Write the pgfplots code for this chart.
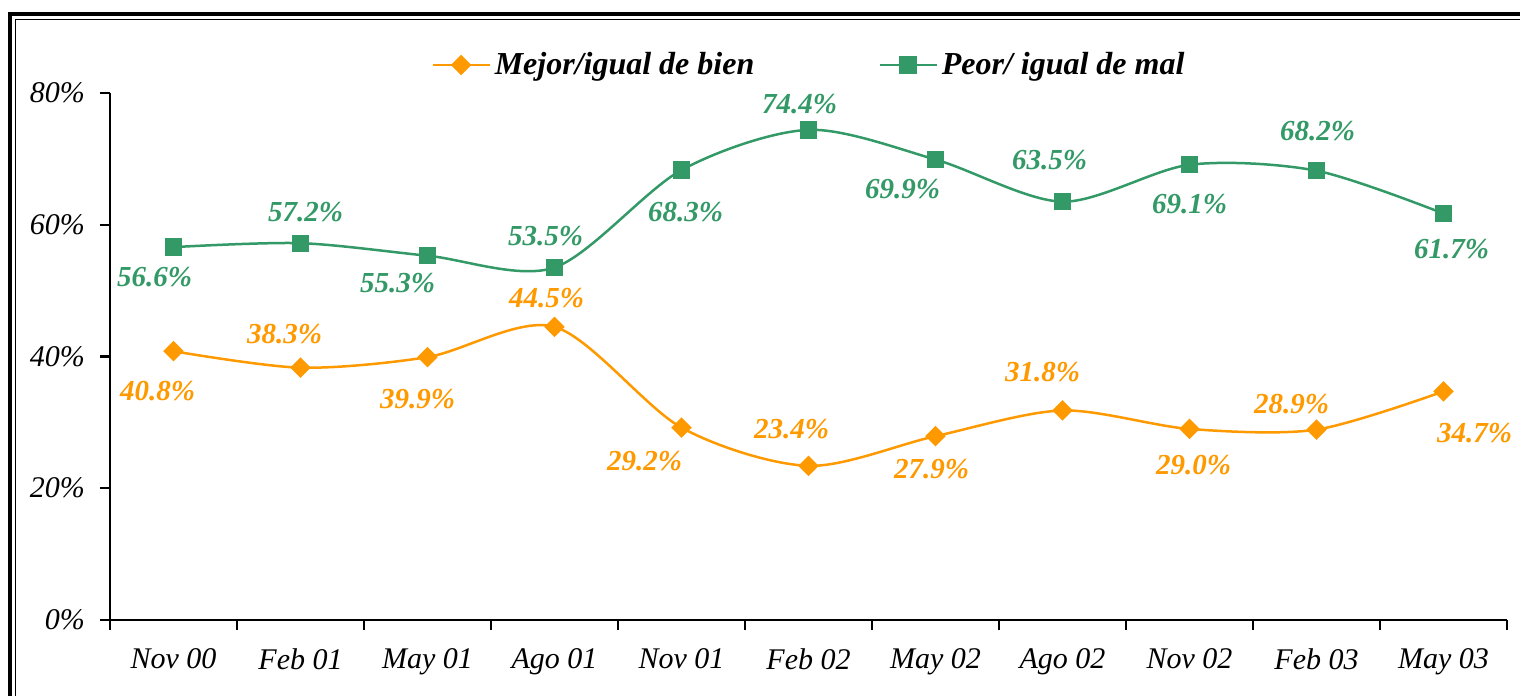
\documentclass[border=0pt]{standalone}
\usepackage{pgfplots}
\usepackage{pgfplotstable}
\pgfplotsset{compat=1.18}
\usepackage{fontspec}
\setmainfont{Liberation Serif}
\definecolor{cor}{HTML}{FF9900}
\definecolor{cgr}{HTML}{339966}

\pgfplotstableread{
x y dx dy
0 40.8 -16 -40
1 38.3 -16 34
2 39.9 -10 -42
3 44.5 -8 29
4 29.2 -37 -33
5 23.4 -17 37
6 27.9 -4 -33
7 31.8 -20 38
8 29.0 4 -36
9 28.9 -25 26
10 34.7 31 -42
}\mejor

\pgfplotstableread{
x y dx dy
0 56.6 -19 -30
1 57.2 5 31
2 55.3 -30 -27
3 53.5 -9 31
4 68.3 4 -42
5 74.4 -9 26
6 69.9 -33 -30
7 63.5 -13 42
8 69.1 0 -39
9 68.2 1 40
10 61.7 8 -36
}\peor

\begin{document}
\begin{tikzpicture}
\begin{axis}[
  scale only axis, width=698.5pt, height=263.5pt,
  xmin=-0.5, xmax=10.5, ymin=0, ymax=80,
  axis x line*=bottom, axis y line*=left,
  axis line style={line width=1.2pt, -},
  xtick={0,...,10},
  xticklabels={Nov 00,Feb 01,May 01,Ago 01,Nov 01,Feb 02,May 02,Ago 02,Nov 02,Feb 03,May 03},
  major x tick style={draw=none},
  minor xtick={-0.5,0.5,1.5,2.5,3.5,4.5,5.5,6.5,7.5,8.5,9.5,10.5},
  minor tick length=5pt, major tick length=5pt,
  ytick={0,20,40,60,80},
  tick align=outside,
  tick style={line width=1.2pt, black},
  /pgf/number format/assume math mode=true,
  yticklabel={\pgfmathprintnumber{\tick}\%},
  ticklabel style={font=\itshape\fontsize{15}{18}\selectfont},
  xticklabel style={yshift=-6pt},
  yticklabel style={xshift=-4pt},
  legend style={at={(0.501,1.053)}, anchor=center, draw=none, fill=none,
    font=\bfseries\itshape\fontsize{16}{19}\selectfont,
    legend columns=2,
    /tikz/every even column/.append style={column sep=60pt}},
  legend image code/.code={\draw[mark repeat=2,mark phase=2] plot coordinates {(0cm,0cm) (0.5cm,0cm) (1cm,0cm)};},
  point meta=y,
  nodes near coords={\pgfmathprintnumber[fixed,fixed zerofill,precision=1]{\pgfplotspointmeta}\%},
  visualization depends on={\thisrow{dx} \as \dx},
  visualization depends on={\thisrow{dy} \as \dy},
  nodes near coords style={anchor=center, xshift={\dx*0.5pt}, yshift={\dy*0.5pt},
    font=\bfseries\itshape\fontsize{14.5}{17}\selectfont},
  clip=false,
]
\addplot[cor, line width=1.25pt, smooth, mark=square*, mark size=3pt,
  mark options={rotate=45, solid, fill=cor, draw=cor},
  nodes near coords style={text=cor}] table[x=x,y=y] {\mejor};
\addlegendentry{Mejor/igual de bien}
\addplot[cgr, line width=1.25pt, smooth, mark=square*, mark size=3.7pt,
  mark options={solid, fill=cgr, draw=cgr},
  nodes near coords style={text=cgr}] table[x=x,y=y] {\peor};
\addlegendentry{Peor/ igual de mal}
\coordinate (bbsw) at (rel axis cs:-0.07874,-0.14421);
\coordinate (bbne) at (rel axis cs:1.00931,1.17647);
\coordinate (fo) at (rel axis cs:-0.07158,1.14991);
\coordinate (fi) at (rel axis cs:-0.06765,1.13947);
\end{axis}
\pgfresetboundingbox
\useasboundingbox (bbsw) rectangle (bbne);
\begin{scope}
\clip (bbsw) rectangle (bbne);
\draw[line width=1.6pt] (fo) ++(0,-500pt) -- (fo) -- ++(900pt,0);
\draw[line width=0.8pt] (fi) ++(0,-500pt) -- (fi) -- ++(900pt,0);
\end{scope}
\end{tikzpicture}
\end{document}
